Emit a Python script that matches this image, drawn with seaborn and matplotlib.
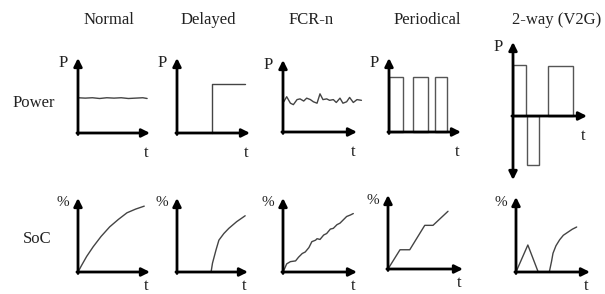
import numpy as np
import seaborn as sns
import matplotlib.pyplot as plt

# column titles and row labels
col_titles = ["Normal", "Delayed", "FCR-n", "Periodical", "2-way (V2G)"]
row_labels = ["Power", "SoC"]

# --- power profiles (x, y as fractions of each small axis) ---
normal_p_x = [0.0, 0.1, 0.2, 0.3, 0.4, 0.5, 0.6, 0.7, 0.8, 0.9, 0.96]
normal_p_y = [0.47, 0.465, 0.47, 0.46, 0.47, 0.465, 0.47, 0.46, 0.465, 0.47, 0.46]

delayed_p_x = [0.48, 0.48, 0.93]
delayed_p_y = [0.0, 0.65, 0.65]

fcr_p_x = [0.01, 0.05, 0.10, 0.14, 0.19, 0.23, 0.28, 0.32, 0.37, 0.41, 0.46, 0.50,
           0.54, 0.59, 0.63, 0.68, 0.72, 0.77, 0.81, 0.86, 0.90, 0.95, 1.0, 1.06]
fcr_p_y = [0.42, 0.49, 0.40, 0.38, 0.45, 0.46, 0.43, 0.47, 0.45, 0.42, 0.40, 0.53,
           0.45, 0.46, 0.44, 0.45, 0.41, 0.47, 0.40, 0.42, 0.48, 0.41, 0.45, 0.44]

periodic_left = [0.0, 0.33, 0.64]
periodic_width = [0.19, 0.21, 0.17]
periodic_height = [0.74, 0.74, 0.74]

v2g_left = [0.0, 0.19, 0.47]
v2g_width = [0.18, 0.16, 0.34]
v2g_height = [0.69, -0.66, 0.68]

# --- state of charge profiles ---
normal_s_x = [0.0, 0.05, 0.12, 0.21, 0.32, 0.44, 0.56, 0.68, 0.80, 0.92]
normal_s_y = [0.0, 0.09, 0.21, 0.34, 0.48, 0.61, 0.71, 0.80, 0.85, 0.89]

delayed_s_x = [0.48, 0.50, 0.55, 0.59, 0.66, 0.73, 0.84, 0.96]
delayed_s_y = [0.0, 0.12, 0.30, 0.43, 0.52, 0.59, 0.68, 0.76]

fcr_s_x = [0.01, 0.05, 0.10, 0.17, 0.21, 0.26, 0.30, 0.35, 0.39, 0.44, 0.46, 0.50,
           0.55, 0.59, 0.64, 0.68, 0.73, 0.77, 0.82, 0.86, 0.91, 0.95]
fcr_s_y = [0.02, 0.11, 0.14, 0.15, 0.20, 0.25, 0.27, 0.33, 0.41, 0.43, 0.45, 0.44,
           0.50, 0.52, 0.58, 0.59, 0.64, 0.66, 0.71, 0.75, 0.77, 0.79]

periodic_s_x = [0.0, 0.16, 0.29, 0.49, 0.60, 0.80]
periodic_s_y = [0.0, 0.26, 0.26, 0.59, 0.59, 0.78]

v2g_s_tri_x = [0.0, 0.16, 0.30]
v2g_s_tri_y = [0.0, 0.36, 0.0]
v2g_s_x = [0.45, 0.48, 0.50, 0.54, 0.59, 0.64, 0.70, 0.76, 0.82]
v2g_s_y = [0.0, 0.14, 0.25, 0.35, 0.43, 0.49, 0.53, 0.57, 0.60]

# panel layout in pixels: origin x, origin y, x-axis end, y-axis top, y-axis bottom
W, H = 605, 294
layout = [
    [(78, 133, 150, 58, None), (177, 133, 250, 58, None), (283, 132, 357, 60, None),
     (389, 132, 461, 58, None), (513, 116, 587, 42, 180)],
    [(78, 272, 150, 198, None), (177, 272, 248, 198, None), (283, 272, 357, 198, None),
     (388, 269, 463, 195, None), (516, 272, 590, 197, None)],
]
# vertical pixel offset of the "t" label below each x-axis, per row
t_offset = [-20, -14]

sns.set_theme(style="white")
plt.rcParams['font.family'] = ['Liberation Serif', 'DejaVu Serif']

fig = plt.figure(figsize=(W / 100, H / 100), dpi=100)
fig.patch.set_facecolor("white")

LINE = "#444444"


def make_axes(ox, oy, xend, top, bottom):
    bottom_px = oy if bottom is None else bottom
    ax = fig.add_axes([ox / W, 1 - bottom_px / H, (xend - ox) / W, (bottom_px - top) / H])
    scale = oy - top
    ax.set_xlim(0, 1)
    ax.set_ylim(-(bottom_px - oy) / scale, 1)
    ax.axis("off")
    arrow = dict(arrowstyle="-|>", lw=2.0, color="black", mutation_scale=12,
                 shrinkA=0, shrinkB=0)
    ax.annotate("", xy=(1, 0), xytext=(-0.015, 0), arrowprops=arrow, annotation_clip=False)
    ax.annotate("", xy=(0, 1), xytext=(0, -0.02 if bottom is None else 0), arrowprops=arrow,
                annotation_clip=False)
    if bottom is not None:
        ax.annotate("", xy=(0, ax.get_ylim()[0]), xytext=(0, 0), arrowprops=arrow,
                    annotation_clip=False)
    return ax


def line(ax, x, y):
    sns.lineplot(x=x, y=y, ax=ax, color=LINE, lw=1.0, sort=False, estimator=None,
                 clip_on=False)


def bars(ax, left, width, height):
    ax.bar(left, height, width=width, align="edge", fill=False, edgecolor="#555555",
           lw=1.0, clip_on=False)


axes = [[make_axes(*layout[r][c]) for c in range(5)] for r in range(2)]

# power row
line(axes[0][0], normal_p_x, normal_p_y)
line(axes[0][1], delayed_p_x, delayed_p_y)
line(axes[0][2], fcr_p_x, fcr_p_y)
bars(axes[0][3], periodic_left, periodic_width, periodic_height)
bars(axes[0][4], v2g_left, v2g_width, v2g_height)

# SoC row
line(axes[1][0], normal_s_x, normal_s_y)
line(axes[1][1], delayed_s_x, delayed_s_y)
line(axes[1][2], fcr_s_x, fcr_s_y)
line(axes[1][3], periodic_s_x, periodic_s_y)
line(axes[1][4], v2g_s_tri_x, v2g_s_tri_y)
line(axes[1][4], v2g_s_x, v2g_s_y)

# axis letters
for r, sym in enumerate(["P", "%"]):
    for c in range(5):
        ax = axes[r][c]
        ax.annotate(sym, xy=(0, 1), xycoords="data", xytext=(-15, -5),
                    textcoords="offset pixels", ha="center", va="center",
                    fontsize=12 if sym == "P" else 11, color="#222222",
                    annotation_clip=False)
        ax.annotate("t", xy=(1, 0), xycoords="data", xytext=(-4, t_offset[r]),
                    textcoords="offset pixels", ha="center", va="center",
                    fontsize=12, color="#222222", annotation_clip=False)

# titles
title_x = [109, 208, 311, 427, 557]
for name, x in zip(col_titles, title_x):
    fig.text(x / W, 1 - 20 / H, name, ha="center", va="center", fontsize=12, color="#222222")

fig.text(34 / W, 1 - 103 / H, row_labels[0], ha="center", va="center", fontsize=12, color="#222222")
fig.text(37 / W, 1 - 239 / H, row_labels[1], ha="center", va="center", fontsize=12, color="#222222")

fig.savefig("out.png", dpi=100, facecolor="white")
